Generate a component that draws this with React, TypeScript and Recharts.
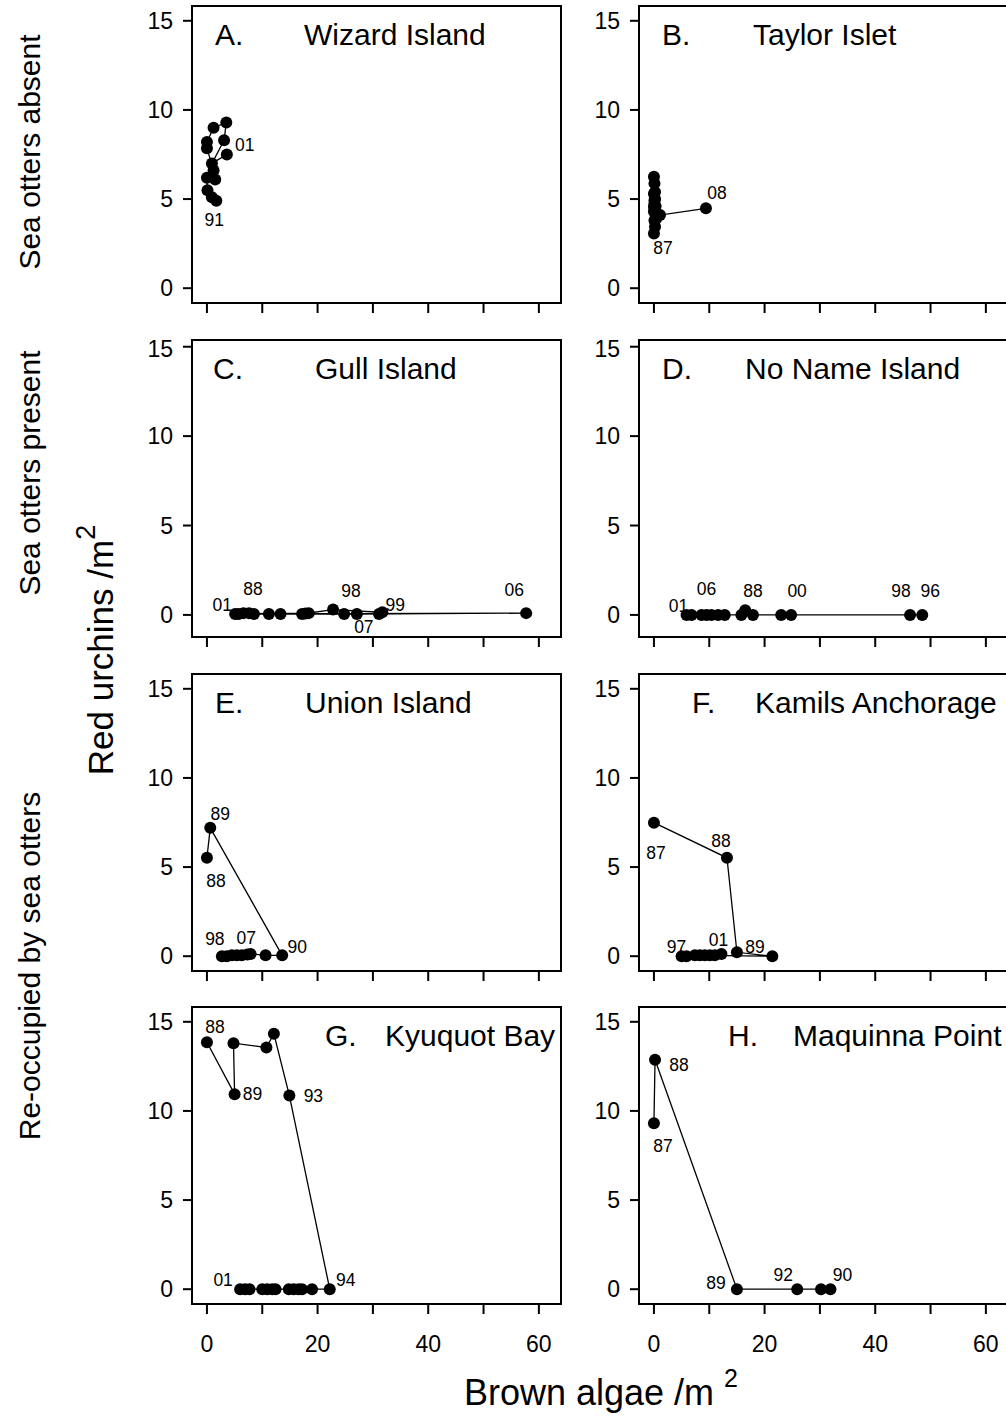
import { ReferenceArea, Scatter, ScatterChart, XAxis, YAxis } from "recharts"

// Red urchin density vs brown algae density, one panel per site.
// Each site: algae (x), urchins (y) in survey order, tags = [index, year label].

const wizardAlgae = [1.7, 0.9, 0.1, 0, 1.5, 1.2, 0, 0, 1.2, 3.5, 3.1, 0.9, 3.6]
const wizardUrchins = [4.9, 5.1, 5.5, 6.2, 6.1, 6.6, 7.85, 8.2, 9.0, 9.3, 8.3, 7.0, 7.5]
const wizardTags: [number, string][] = [[0, "91"], [12, "01"]]

const taylorAlgae = [0, 0.2, 0.1, 0.3, 0, 0.1, 0, 0.1, 0, 0.2, 0.3, 0, 0.4, 0.1, 0.2, 1.1, 9.4]
const taylorUrchins = [3.07, 3.45, 3.8, 4.2, 4.57, 4.94, 5.3, 5.88, 6.25, 5.0, 4.6, 4.3, 3.9, 4.75, 5.4, 4.1, 4.48]
const taylorTags: [number, string][] = [[0, "87"], [16, "08"]]

const gullAlgae = [7.6, 11.2, 13.3, 6.6, 17.2, 18.4, 8.5, 5.7, 24.8, 17.8, 22.8, 31.7, 31.1, 5.1, 57.7, 27.1]
const gullUrchins = [0.1, 0.05, 0.05, 0.1, 0.05, 0.1, 0.05, 0.05, 0.05, 0.08, 0.3, 0.15, 0.05, 0.05, 0.1, 0.05]
const gullTags: [number, string][] = [[13, "01"], [0, "88"], [10, "98"], [11, "99"], [15, "07"], [14, "06"]]

const noNameAlgae = [17.9, 16.5, 15.8, 12.8, 11.6, 23.0, 48.5, 46.3, 24.8, 5.9, 6.8, 8.6, 10.4, 9.5]
const noNameUrchins = [0, 0.26, 0, 0, 0, 0, 0, 0, 0, 0, 0, 0, 0, 0]
const noNameTags: [number, string][] = [[9, "01"], [13, "06"], [0, "88"], [8, "00"], [7, "98"], [6, "96"]]

const unionAlgae = [0, 0.6, 13.6, 10.6, 7.9, 6.3, 4.5, 2.7, 3.6, 5.4, 7.3]
const unionUrchins = [5.52, 7.2, 0.05, 0.05, 0.13, 0.05, 0.05, 0, 0, 0.05, 0.1]
const unionTags: [number, string][] = [[0, "88"], [1, "89"], [2, "90"], [7, "98"], [10, "07"]]

const kamilsAlgae = [0, 13.2, 15.0, 21.4, 9.2, 7.4, 5.9, 5.0, 8.3, 10.1, 11.0, 12.2]
const kamilsUrchins = [7.49, 5.52, 0.22, 0, 0.05, 0.05, 0, 0, 0.05, 0.05, 0.05, 0.13]
const kamilsTags: [number, string][] = [[0, "87"], [1, "88"], [2, "89"], [7, "97"], [11, "01"]]

const kyuquotAlgae = [0, 5.0, 4.8, 10.75, 12.1, 14.9, 22.2, 19.0, 16.6, 17.2, 15.7, 14.8, 12.4, 6.0, 11.8, 10.9, 10.0, 7.7, 6.9]
const kyuquotUrchins = [13.85, 10.94, 13.8, 13.56, 14.33, 10.86, 0, 0, 0, 0, 0, 0, 0, 0, 0, 0, 0, 0, 0]
const kyuquotTags: [number, string][] = [[0, "88"], [1, "89"], [5, "93"], [6, "94"], [13, "01"]]

const maquinnaAlgae = [0, 0.2, 15.0, 31.9, 30.2, 25.9]
const maquinnaUrchins = [9.31, 12.87, 0, 0, 0, 0]
const maquinnaTags: [number, string][] = [[0, "87"], [1, "88"], [2, "89"], [3, "90"], [5, "92"]]

const siteLetters = ["A.", "B.", "C.", "D.", "E.", "F.", "G.", "H."]
const siteNames = [
  "Wizard Island",
  "Taylor Islet",
  "Gull Island",
  "No Name Island",
  "Union Island",
  "Kamils Anchorage",
  "Kyuquot Bay",
  "Maquinna Point",
]
const siteAlgae = [wizardAlgae, taylorAlgae, gullAlgae, noNameAlgae, unionAlgae, kamilsAlgae, kyuquotAlgae, maquinnaAlgae]
const siteUrchins = [wizardUrchins, taylorUrchins, gullUrchins, noNameUrchins, unionUrchins, kamilsUrchins, kyuquotUrchins, maquinnaUrchins]
const siteTags = [wizardTags, taylorTags, gullTags, noNameTags, unionTags, kamilsTags, kyuquotTags, maquinnaTags]

const xTicks = [0, 10, 20, 30, 40, 50, 60]
const yTicks = [0, 5, 10, 15]
const xDomain: [number, number] = [-2.7, 64]
// the second row sits a little lower inside its frame
const rowYDomain: [number, number][] = [
  [-0.83, 15.83],
  [-1.235, 15.376],
  [-0.83, 15.83],
  [-0.83, 15.83],
]

// ---- layout ----
const PLOT_W = 369
const PLOT_H = 297
const Y_AXIS_W = 60
const PAD = 4
const COL_LEFT = [192, 639]
const ROW_TOP = [6, 340, 674, 1007]

// title placement per panel: [letter x, name x] from plot left
const TITLE_X: [number, number][] = [
  [23, 112], [23, 114], [21, 123], [23, 106],
  [23, 113], [53, 116], [133, 193], [89, 154],
]
const TITLE_BASE = 38.5

// year label offsets (px) from the marker centre, in tag order
const TAG_OFFSETS: [number, number][][] = [
  [[-2, 19], [18, -10]],
  [[9, 15], [11, -15]],
  [[-13, -9], [4, -24], [18, -19], [13, -7], [7, 13], [-12, -23]],
  [[-8, -9], [0, -26], [0, -24], [6, -24], [-9, -24], [8, -24]],
  [[9, 23], [10, -14], [15, -8], [-7, -17], [-1, -16]],
  [[2, 30], [-6, -17], [18, -5], [-5, -9], [-3, -14]],
  [[8, -15], [18, 0], [24, 0], [16, -9], [-17, -9]],
  [[9, 23], [24, 5], [-21, -6], [12, -14], [-14, -14]],
]

const FONT = "'Liberation Sans', Arial, Helvetica, sans-serif"
const axisStroke = { stroke: "#000", strokeWidth: 2 }

function Marker(props: any) {
  return <circle cx={props.cx} cy={props.cy} r={6} fill="#000" />
}

function YearTag(props: any) {
  const p = props.payload
  return (
    <text
      x={props.cx + p.dx}
      y={props.cy + p.dy}
      textAnchor="middle"
      dominantBaseline="central"
      fontSize={17.5}
      fill="#000"
    >
      {p.text}
    </text>
  )
}

function Panel({ idx }: { idx: number }) {
  const col = idx % 2
  const row = Math.floor(idx / 2)
  const bottomRow = row === 3
  const xAxisH = bottomRow ? 60 : 14
  const yDomain = rowYDomain[row]

  const points = siteAlgae[idx].map((x, i) => ({ x, y: siteUrchins[idx][i] }))
  const tags = siteTags[idx].map(([i, text], k) => ({
    x: siteAlgae[idx][i],
    y: siteUrchins[idx][i],
    text,
    dx: TAG_OFFSETS[idx][k][0],
    dy: TAG_OFFSETS[idx][k][1],
  }))

  const left = COL_LEFT[col]
  const top = ROW_TOP[row]

  return (
    <div style={{ position: "absolute", left: left - Y_AXIS_W, top: top - PAD }}>
      <ScatterChart
        width={Y_AXIS_W + PLOT_W + PAD}
        height={PAD + PLOT_H + xAxisH}
        margin={{ top: PAD, right: PAD, bottom: 0, left: 0 }}
      >
        <XAxis
          type="number"
          dataKey="x"
          domain={xDomain}
          ticks={xTicks}
          allowDataOverflow
          height={xAxisH}
          tickSize={10}
          tickMargin={22}
          axisLine={axisStroke}
          tickLine={axisStroke}
          tick={{ fontSize: 23, fill: "#000" }}
          tickFormatter={(v: number) => (bottomRow && v % 20 === 0 ? String(v) : "")}
        />
        <YAxis
          type="number"
          dataKey="y"
          domain={yDomain}
          ticks={yTicks}
          allowDataOverflow
          width={Y_AXIS_W}
          tickSize={9}
          tickMargin={10}
          axisLine={axisStroke}
          tickLine={axisStroke}
          tick={{ fontSize: 23, fill: "#000" }}
        />
        <ReferenceArea
          x1={xDomain[0]}
          x2={xDomain[1]}
          y1={yDomain[0]}
          y2={yDomain[1]}
          fill="none"
          stroke="#000"
          strokeWidth={2}
          fillOpacity={0}
        />
        <Scatter
          data={points}
          line={{ stroke: "#000", strokeWidth: 1.3 }}
          shape={Marker}
          isAnimationActive={false}
        />
        <Scatter data={tags} shape={YearTag} isAnimationActive={false} />
      </ScatterChart>
    </div>
  )
}

function Titles() {
  return (
    <>
      {siteNames.map((name, idx) => {
        const left = COL_LEFT[idx % 2]
        const top = ROW_TOP[Math.floor(idx / 2)]
        const [lx, nx] = TITLE_X[idx]
        return (
          <g key={name} fontSize={30} fill="#000">
            <text x={left + lx} y={top + TITLE_BASE}>{siteLetters[idx]}</text>
            <text x={left + nx} y={top + TITLE_BASE}>{name}</text>
          </g>
        )
      })}
    </>
  )
}

export default function App() {
  return (
    <div
      style={{
        position: "absolute",
        left: 0,
        top: 0,
        width: 1006,
        height: 1418,
        overflow: "hidden",
        background: "#fff",
        fontFamily: FONT,
      }}
    >
      {siteNames.map((name, idx) => (
        <Panel key={name} idx={idx} />
      ))}
      <svg
        width={1006}
        height={1418}
        style={{ position: "absolute", left: 0, top: 0, pointerEvents: "none" }}
        fontFamily={FONT}
      >
        <Titles />
        <g fontSize={30} fill="#000" textAnchor="middle">
          <text transform="translate(40 152) rotate(-90)">Sea otters absent</text>
          <text transform="translate(40 473) rotate(-90)">Sea otters present</text>
          <text transform="translate(40 966) rotate(-90)">Re-occupied by sea otters</text>
        </g>
        <text transform="translate(113 650) rotate(-90)" fontSize={35} textAnchor="middle" fill="#000">
          Red urchins /m
          <tspan dy={-18} fontSize={27}>2</tspan>
        </text>
        <text x={601} y={1405} fontSize={36} textAnchor="middle" fill="#000">
          Brown algae /m{" "}
          <tspan dy={-18} fontSize={25}>2</tspan>
        </text>
      </svg>
    </div>
  )
}
